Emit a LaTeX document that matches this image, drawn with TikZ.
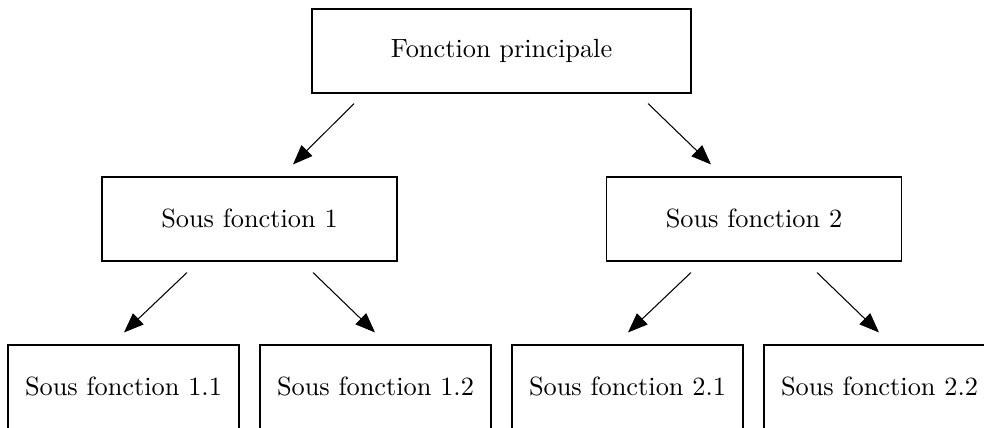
\documentclass[tikz,border=0pt]{standalone}
\usetikzlibrary{arrows.meta}
\begin{document}
\begin{tikzpicture}[x=0.3797pt,y=-0.3797pt,
  box/.style={draw,line width=0.4pt,inner sep=0pt,minimum height=31.9pt},
  topbox/.style={box,minimum width=143.9pt},
  midbox/.style={box,minimum width=112pt},
  lowbox/.style={box,minimum width=87.7pt},
  arr/.style={-{Triangle[length=7.5pt,width=5.8pt]},line width=0.4pt}]
\useasboundingbox (0,0) rectangle (984,428);
\clip (0,0) rectangle (984,428);
\node[topbox] (top) at (501.5,51) {Fonction principale};
\node[midbox] (ml) at (249.5,219) {Sous fonction 1};
\node[midbox] (mr) at (754,219) {Sous fonction 2};
\node[lowbox] (b11) at (123.5,387) {Sous fonction 1.1};
\node[lowbox] (b12) at (375.5,387) {Sous fonction 1.2};
\node[lowbox] (b21) at (627.5,387) {Sous fonction 2.1};
\node[lowbox] (b22) at (879.5,387) {Sous fonction 2.2};
\draw[arr] ([shift={(-147.5,10)}]top.south) -- ([shift={(43.5,-12)}]ml.north);
\draw[arr] ([shift={(146.5,10)}]top.south) -- ([shift={(-43,-12)}]mr.north);
\draw[arr] ([shift={(-62.5,11)}]ml.south) -- ([shift={(0.5,-12)}]b11.north);
\draw[arr] ([shift={(63.5,11)}]ml.south) -- ([shift={(-0.5,-12)}]b12.north);
\draw[arr] ([shift={(-63,11)}]mr.south) -- ([shift={(0.5,-12)}]b21.north);
\draw[arr] ([shift={(63,11)}]mr.south) -- ([shift={(-0.5,-12)}]b22.north);
\end{tikzpicture}
\end{document}
